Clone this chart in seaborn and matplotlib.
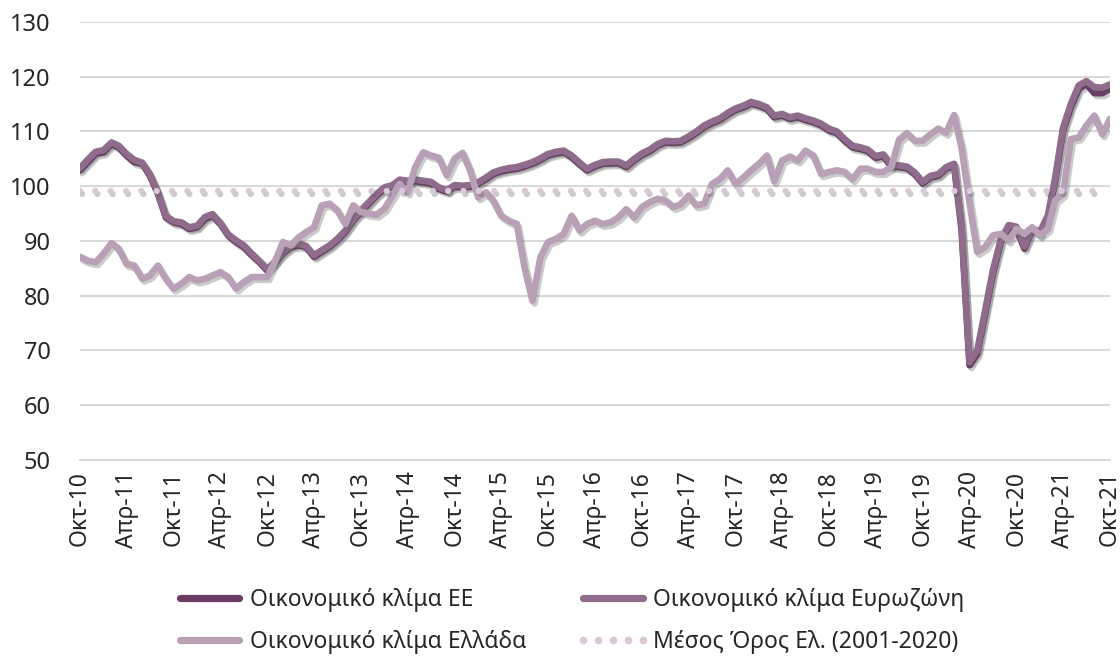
import numpy as np
import pandas as pd
import matplotlib
matplotlib.use('Agg')
import matplotlib.pyplot as plt
import matplotlib.patheffects as pe
from matplotlib.lines import Line2D
import seaborn as sns

# monthly data, Oct-10 .. Oct-21
start_month = '2010-10-01'
end_month = '2021-10-01'

esi_eu = [
    102.9, 104.4, 105.9, 106.2, 107.7, 107.1, 105.6, 104.4, 104.1, 101.9, 98.6, 94.3,
    93.4, 93.1, 92.2, 92.5, 94.0, 94.6, 93.1, 91.0, 89.8, 88.9, 87.4, 86.1,
    84.6, 86.1, 87.7, 88.9, 89.2, 88.9, 87.1, 88.0, 88.9, 90.1, 91.6, 93.7,
    95.3, 96.8, 98.3, 99.5, 99.9, 100.9, 100.7, 100.9, 100.7, 100.5, 99.5, 99.0,
    99.9, 99.8, 99.9, 100.4, 101.3, 102.2, 102.7, 103.0, 103.2, 103.6, 104.1, 104.8,
    105.6, 106.0, 106.2, 105.3, 104.0, 102.9, 103.6, 104.1, 104.2, 104.2, 103.5, 104.7,
    105.7, 106.4, 107.4, 108.0, 107.9, 108.0, 108.8, 109.7, 110.8, 111.5, 112.1, 113.1,
    113.9, 114.4, 115.1, 114.7, 114.1, 112.6, 112.9, 112.3, 112.6, 112.1, 111.7, 111.1,
    110.2, 109.7, 108.3, 107.1, 106.8, 106.4, 105.2, 105.5, 103.6, 103.5, 103.3, 102.2,
    100.5, 101.6, 101.9, 103.2, 103.8, 92.0, 67.3, 69.4, 76.7, 84.0, 89.8, 92.5,
    92.2, 88.6, 91.9, 91.3, 94.3, 101.0, 110.2, 114.4, 117.8, 118.7, 117.0, 117.0,
    117.8,
]

esi_ez = [
    103.3, 104.9, 106.3, 106.6, 108.0, 107.4, 105.9, 104.8, 104.3, 102.2, 98.9, 94.6,
    93.6, 93.4, 92.5, 92.8, 94.4, 94.9, 93.3, 91.2, 90.1, 89.2, 87.7, 86.3,
    84.9, 86.3, 88.0, 89.2, 89.5, 89.1, 87.4, 88.3, 89.2, 90.4, 91.9, 94.0,
    95.6, 97.1, 98.6, 99.8, 100.2, 101.2, 101.0, 101.2, 101.0, 100.8, 99.8, 99.3,
    100.2, 100.1, 100.2, 100.7, 101.6, 102.5, 103.0, 103.3, 103.5, 103.9, 104.4, 105.1,
    105.9, 106.3, 106.5, 105.6, 104.3, 103.2, 103.9, 104.4, 104.5, 104.5, 103.8, 105.0,
    106.0, 106.7, 107.7, 108.3, 108.2, 108.3, 109.1, 110.0, 111.1, 111.8, 112.4, 113.4,
    114.2, 114.7, 115.4, 115.0, 114.4, 112.9, 113.2, 112.6, 112.9, 112.4, 112.0, 111.4,
    110.5, 110.0, 108.6, 107.4, 107.1, 106.7, 105.5, 105.8, 103.9, 103.8, 103.6, 102.5,
    100.8, 101.9, 102.2, 103.5, 104.1, 92.8, 67.9, 70.0, 77.3, 84.6, 90.3, 92.9,
    92.6, 89.0, 92.3, 91.7, 94.7, 101.5, 110.7, 115.0, 118.4, 119.2, 118.1, 118.0,
    118.6,
]

esi_gr = [
    87.1, 86.4, 86.1, 87.7, 89.6, 88.6, 85.8, 85.5, 83.1, 83.7, 85.5, 83.1,
    81.3, 82.2, 83.4, 82.8, 83.1, 83.7, 84.3, 83.4, 81.3, 82.5, 83.4, 83.4,
    83.4, 86.4, 89.8, 89.2, 90.7, 91.6, 92.5, 96.5, 96.8, 95.6, 93.1, 96.5,
    95.3, 95.0, 94.8, 95.9, 98.3, 100.4, 98.9, 103.5, 106.2, 105.6, 105.2, 102.0,
    105.0, 106.1, 102.9, 98.0, 98.9, 97.4, 94.6, 93.7, 93.1, 85.2, 79.1, 87.0,
    89.8, 90.4, 91.3, 94.6, 91.9, 93.1, 93.7, 93.1, 93.4, 94.3, 95.8, 94.3,
    96.2, 97.1, 97.7, 97.4, 96.2, 96.7, 98.3, 96.5, 96.8, 100.4, 101.3, 102.9,
    100.4, 101.6, 102.9, 104.1, 105.6, 100.9, 104.7, 105.4, 104.7, 106.5, 105.6, 102.2,
    102.6, 102.9, 102.6, 101.3, 103.2, 103.2, 102.6, 102.6, 103.5, 108.5, 109.7, 108.3,
    108.3, 109.5, 110.5, 109.8, 113.0, 107.0, 97.0, 88.0, 88.9, 91.0, 91.3, 90.1,
    92.2, 91.3, 92.5, 91.0, 92.2, 97.4, 98.6, 108.6, 108.9, 111.1, 112.9, 109.5,
    112.3,
]

gr_mean = 99.1
gr_mean_end = '2021-08-01'

tick_labels = [
    'Οκτ-10', 'Απρ-11', 'Οκτ-11', 'Απρ-12', 'Οκτ-12', 'Απρ-13', 'Οκτ-13', 'Απρ-14',
    'Οκτ-14', 'Απρ-15', 'Οκτ-15', 'Απρ-16', 'Οκτ-16', 'Απρ-17', 'Οκτ-17', 'Απρ-18',
    'Οκτ-18', 'Απρ-19', 'Οκτ-19', 'Απρ-20', 'Οκτ-20', 'Απρ-21', 'Οκτ-21',
]

labels = ['Οικονομικό κλίμα ΕΕ', 'Οικονομικό κλίμα Ευρωζώνη',
          'Οικονομικό κλίμα Ελλάδα', 'Μέσος Όρος Ελ. (2001-2020)']
colors = ['#6c3c65', '#8f6c8c', '#b8a0b6', '#d9c8d8']

dates = pd.date_range(start_month, end_month, freq='MS')
df = pd.DataFrame({'date': dates, 'eu': esi_eu, 'ez': esi_ez, 'gr': esi_gr})
mean_dates = pd.date_range(start_month, gr_mean_end, freq='MS')
df_mean = pd.DataFrame({'date': mean_dates, 'mean': [gr_mean] * len(mean_dates)})

sns.set_style('white')
plt.rcParams['font.family'] = ['Noto Sans', 'DejaVu Sans']

fig = plt.figure(figsize=(11.2, 6.59), dpi=100)
ax = fig.add_axes([80 / 1120, 1 - 460 / 659, 1030 / 1120, 438 / 659])

shadow = [pe.SimpleLineShadow(offset=(1.5, -2), shadow_color='#555555', alpha=0.3), pe.Normal()]
sns.lineplot(data=df, x='date', y='eu', ax=ax, color=colors[0], linewidth=4.8,
             path_effects=shadow, solid_capstyle='round')
sns.lineplot(data=df, x='date', y='ez', ax=ax, color=colors[1], linewidth=4.8,
             path_effects=shadow, solid_capstyle='round')
sns.lineplot(data=df, x='date', y='gr', ax=ax, color=colors[2], linewidth=4.8,
             path_effects=shadow, solid_capstyle='round')
sns.lineplot(data=df_mean, x='date', y='mean', ax=ax, color=colors[3], linewidth=4.6,
             linestyle=(0, (0.001, 2.4)), dash_capstyle='round', path_effects=shadow)

ax.set_ylim(50, 130)
ax.set_yticks(range(50, 131, 10))
ax.set_xlim(dates[0], dates[-1])
ticks = pd.date_range(start_month, end_month, freq='6MS')
ax.set_xticks(ticks)
ax.set_xticklabels(tick_labels, rotation=90)
ax.tick_params(axis='x', labelsize=16.5, length=0, pad=8)
ax.tick_params(axis='y', labelsize=17, length=0, pad=21)
ax.set_xlabel('')
ax.set_ylabel('')
ax.grid(axis='y', color='#d9d9d9', linewidth=1.5)
ax.set_axisbelow(True)
for s in ['top', 'right', 'left']:
    ax.spines[s].set_visible(False)
ax.spines['bottom'].set_color('#d9d9d9')
ax.spines['bottom'].set_linewidth(1.5)
ax.spines['bottom'].set_zorder(0)

handles = [
    Line2D([], [], color=colors[0], linewidth=5.2, solid_capstyle='round'),
    Line2D([], [], color=colors[2], linewidth=5.2, solid_capstyle='round'),
    Line2D([], [], color=colors[1], linewidth=5.2, solid_capstyle='round'),
    Line2D([], [], color=colors[3], linestyle='', marker='o', markersize=4.5),
]
fig.legend(handles, [labels[0], labels[2], labels[1], labels[3]], ncol=2,
           loc='upper left', bbox_to_anchor=(173 / 1120, 1 - 588 / 659),
           frameon=False, fontsize=16.5, handlelength=3.2, handletextpad=0.15,
           columnspacing=2.2, labelspacing=0.8, borderpad=0, borderaxespad=0,
           numpoints=5)

plt.savefig('out.png', dpi=100)
